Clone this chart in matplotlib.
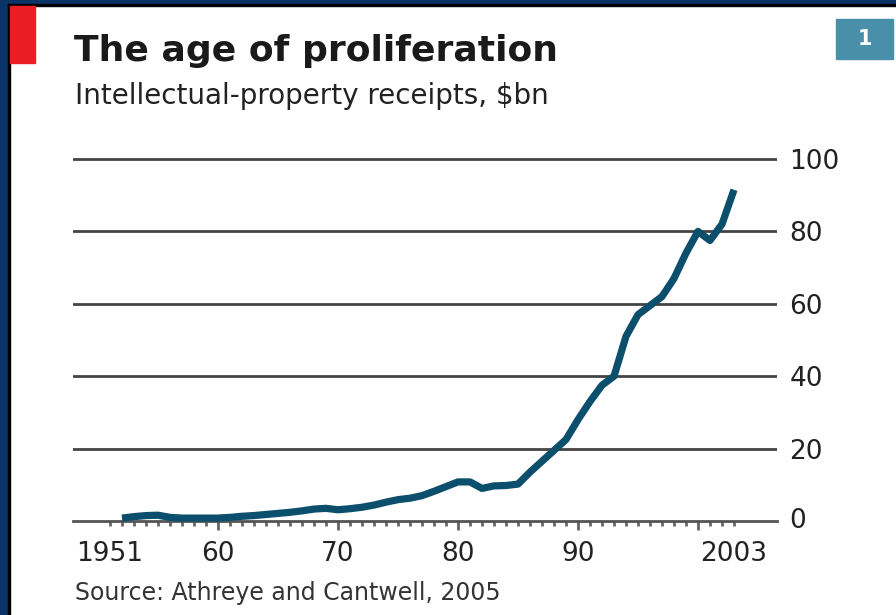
import matplotlib.pyplot as plt
from matplotlib.patches import Rectangle

plt.rcParams['font.family'] = ['DejaVu Sans']

# Intellectual-property receipts, $bn
years = list(range(1952, 2004))
receipts = [0.8, 1.2, 1.5, 1.6, 1.0, 0.8, 0.8, 0.8, 0.8, 1.0,
            1.3, 1.5, 1.8, 2.1, 2.4, 2.8, 3.3, 3.5, 3.1, 3.4,
            3.8, 4.4, 5.2, 5.9, 6.3, 7.0, 8.2, 9.5, 10.8, 10.8,
            9.0, 9.7, 9.8, 10.2, 13.5, 16.5, 19.5, 22.5, 28.0, 33.0,
            37.5, 40.0, 51.0, 57.0, 59.5, 62.0, 67.0, 74.0, 80.0, 77.5,
            82.0, 91.5]

xtick_pos = [1951, 1960, 1970, 1980, 1990, 2000, 2003]
xtick_labels = ['1951', '60', '70', '80', '90', '', '2003']
ytick_pos = [0, 20, 40, 60, 80, 100]
ytick_labels = ['0', '20', '40', '60', '80', '100']

W, H = 896, 615
fig = plt.figure(figsize=(W / 100, H / 100), dpi=100)
fig.patch.set_facecolor('white')

def px(x0, y0, x1, y1):
    # pixel box (top-left origin) -> figure fraction rect
    return (x0 / W, 1 - y1 / H), (x1 - x0) / W, (y1 - y0) / H

# frame: navy border with a thin black inner line
for box, col in [((0, 0, 8, H), '#0a3368'), ((0, 0, W, 4), '#0a3368'),
                 ((8, 4, 10, H), 'black'), ((8, 4, W, 6), 'black')]:
    xy, w, h = px(*box)
    fig.patches.append(Rectangle(xy, w, h, transform=fig.transFigure,
                                 color=col, zorder=5))

# red tag top-left
xy, w, h = px(10, 6, 35, 63)
fig.patches.append(Rectangle(xy, w, h, transform=fig.transFigure,
                             color='#ec1c24', zorder=5))

# chart number box top-right
xy, w, h = px(836, 19, 893, 59)
fig.patches.append(Rectangle(xy, w, h, transform=fig.transFigure,
                             color='#4a8fa9', zorder=5))
fig.text(864.5 / W, 1 - 39 / H, '1', color='white', fontsize=15,
         fontweight='bold', ha='center', va='center', zorder=6)

# titles
fig.text(74 / W, 1 - 51 / H, 'The age of proliferation', fontsize=26,
         fontweight='bold', color='#1a1a1a', ha='left', va='center')
fig.text(75 / W, 1 - 96 / H, 'Intellectual-property receipts, $bn',
         fontsize=20, color='#222222', ha='left', va='center')
fig.text(75 / W, 1 - 593 / H, 'Source: Athreye and Cantwell, 2005',
         fontsize=17, color='#333333', ha='left', va='center')

# axes: y=0 at px 521, y=100 at px 159; x from 1947.9 to 2006.6
ppu = (521 - 159) / 100
top_px = 521 - 102 * ppu
ax = fig.add_axes([73 / W, 1 - 521 / H, (777 - 73) / W, (521 - top_px) / H])
ax.set_facecolor('none')
ax.set_xlim(1951 + (73 - 110) / 12, 1951 + (777 - 110) / 12)
ax.set_ylim(0, 102)

ax.plot(years, receipts, color='#0b4f6c', lw=5.2, solid_joinstyle='round',
        solid_capstyle='butt', zorder=4, clip_on=False)

for s in ['top', 'left', 'right']:
    ax.spines[s].set_visible(False)
ax.spines['bottom'].set_color('#555555')
ax.spines['bottom'].set_linewidth(2)

ax.set_yticks(ytick_pos[1:])
ax.set_yticklabels(ytick_labels[1:])
ax.yaxis.tick_right()
ax.tick_params(axis='y', length=0, pad=9, labelsize=19, labelcolor='#222222')
ax.yaxis.grid(True, color='#444444', lw=2)
ax.set_axisbelow(True)
# zero label sits on the axis line
ax.annotate(ytick_labels[0], xy=(1.0, 0), xycoords=ax.get_yaxis_transform(),
            xytext=(9, 0), textcoords='offset points',
            fontsize=19, color='#222222', ha='left', va='center')

ax.set_xticks(xtick_pos)
ax.set_xticklabels(xtick_labels)
ax.set_xticks(range(1951, 2004), minor=True)
ax.tick_params(axis='x', which='major', length=6.5, width=2, color='#666666',
               pad=8, labelsize=19, labelcolor='#222222')
ax.tick_params(axis='x', which='minor', length=3.5, width=2, color='#666666')
for t in ax.xaxis.get_major_ticks():
    if t.get_loc() in (1951, 2003):
        t.tick1line.set_markersize(3.5)

fig.savefig('out.png', dpi=100, facecolor='white')
